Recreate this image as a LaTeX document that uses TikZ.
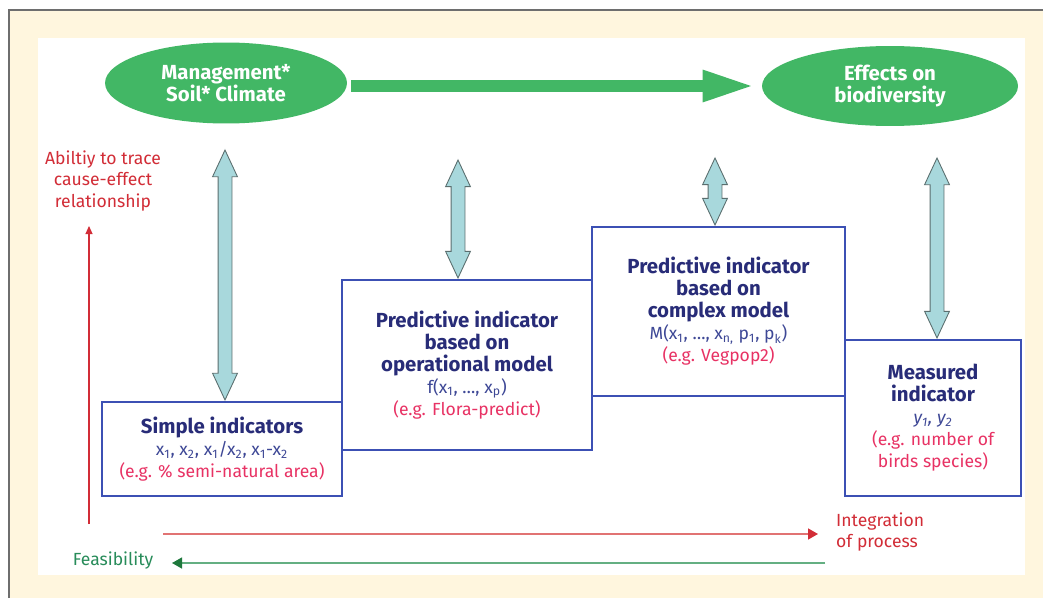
\documentclass[tikz,border=0pt]{standalone}
\usepackage{fontspec}
\setmainfont{Fira Sans}
\usetikzlibrary{shapes.geometric, shapes.arrows, arrows.meta}
\tikzset{>=latex}
\definecolor{paper}{RGB}{255,246,222}
\definecolor{framegray}{RGB}{110,110,110}
\definecolor{leafgreen}{RGB}{66,183,101}
\definecolor{boxblue}{RGB}{60,80,180}
\definecolor{navy}{RGB}{40,44,120}
\definecolor{formblue}{RGB}{62,72,150}
\definecolor{egpink}{RGB}{232,50,100}
\definecolor{tracered}{RGB}{210,45,55}
\definecolor{redline}{RGB}{225,115,115}
\definecolor{feasgreen}{RGB}{40,140,90}
\definecolor{greenline}{RGB}{100,175,130}
\definecolor{greenhead}{RGB}{30,120,60}
\definecolor{skyfill}{RGB}{168,216,220}
\definecolor{arrgray}{RGB}{90,110,110}
\newcommand*{\ix}[1]{\textsubscript{#1}}
\newcommand*{\hd}[1]{{\color{navy}\fontsize{11.6}{12.5}\selectfont\bfseries #1}}
\newcommand*{\fm}[1]{{\color{formblue}#1}}
\newcommand*{\eg}[1]{{\color{egpink}#1}}

\begin{document}
\begin{tikzpicture}[x=0.02cm, y=-0.02cm, font=\fontsize{10}{12.5}\selectfont,
    box/.style={draw=boxblue, line width=0.7pt, inner sep=0pt, align=center},
    oval/.style={ellipse, fill=leafgreen, text=white, font=\fontsize{11.6}{12.5}\selectfont\bfseries, align=center, inner sep=0pt},
    dblarr/.style={double arrow, rotate=90, draw=arrgray, fill=skyfill, line width=0.5pt, inner xsep=0pt, inner ysep=0.13cm, double arrow head extend=0.11cm, double arrow tip angle=50}]
    \useasboundingbox (0, 0) rectangle (1043, 598);
    % frame
    \fill[paper] (9, 10) rectangle (1043, 598);
    \draw[framegray, line width=1pt] (9, 598)--(9, 10)--(1043, 10);
    \fill[white] (38, 38) rectangle (1025, 575);
    % top row
    \node[oval, minimum width=4.84cm, minimum height=1.62cm] (mgt) at (226, 83) {Management*\\Soil* Climate};
    \node[oval, minimum width=5.12cm, minimum height=1.6cm] (eff) at (890, 86) {Effects on\\biodiversity};
    \draw[leafgreen, line width=0.26cm, -{Triangle[length=1.08cm, width=0.56cm]}]([xshift=0.08cm]mgt.east |- eff.west)--([xshift=-0.1cm]eff.west);
    % indicator boxes
    \node[box, minimum width=4.8cm, minimum height=1.88cm] (simple) at (222, 449) {\hd{Simple indicators}\\\fm{x\ix{1}, x\ix{2}, x\ix{1}/x\ix{2}, x\ix{1}-x\ix{2}}\\\eg{(e.g. \% semi-natural area)}};
    \node[box, minimum width=5cm, minimum height=3.4cm] (oper) at (467, 365) {\hd{Predictive indicator}\\\hd{based on}\\\hd{operational model}\\\fm{f(x\ix{1}, \dots, x\ix{p})}\\\eg{(e.g. Flora-predict)}};
    \node[box, minimum width=5.06cm, minimum height=3.38cm] (cplx) at (718.5, 311.5) {\hd{Predictive indicator}\\\hd{based on}\\\hd{complex model}\\\fm{M(x\ix{1}, \dots, x\ix{n,} p\ix{1}, p\ix{k})}\\\eg{(e.g. Vegpop2)}};
    \node[box, minimum width=3.52cm, minimum height=3.12cm] (meas) at (933, 418) {\hd{Measured}\\\hd{indicator}\\\fm{\itshape y\ix{1}, y\ix{2}}\\\eg{(e.g. number of}\\\eg{birds species)}};
    % two-way arrows
    \node[dblarr, minimum height=5cm] (d1) at (225, 275) {};
    \node[dblarr, minimum height=2.36cm] (d2) at (458, 219) {};
    \node[dblarr, minimum height=1.34cm] (d3) at (715, 191.5) {};
    \node[dblarr, minimum height=3.6cm] (d4) at (937, 248) {};
    % axes
    \node[tracered, align=center] (abil) at (103, 181) {Abiltiy to trace\\cause-effect\\relationship};
    \coordinate (v0) at (89, 524);
    \coordinate (v1) at (89, 226);
    \draw[tracered, line width=0.6pt, -{Triangle[length=0.16cm, width=0.14cm]}](v0)--(v1);
    \node[tracered, anchor=west, align=left] (integ) at (830, 532) {Integration\\of process};
    \coordinate (r0) at (163, 534);
    \coordinate (r1) at (818, 534);
    \draw[redline, line width=0.8pt, -{Triangle[length=0.2cm, width=0.22cm, color=tracered]}](r0)--(r1);
    \node[feasgreen] (feas) at (113, 561) {Feasibility};
    \coordinate (g0) at (825, 563);
    \coordinate (g1) at (172, 563);
    \draw[greenline, line width=0.8pt, -{Triangle[length=0.2cm, width=0.22cm, color=greenhead]}](g0)--(g1);
\end{tikzpicture}
\end{document}
